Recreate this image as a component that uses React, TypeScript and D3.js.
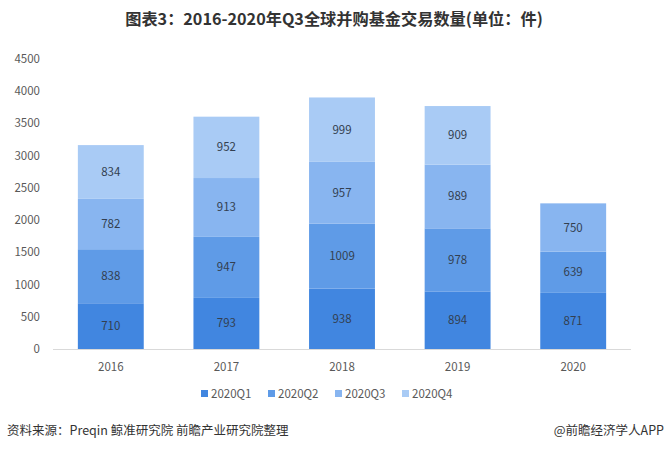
import React from "react";
import * as d3 from "d3";

const years = ["2016", "2017", "2018", "2019", "2020"];
const seriesNames = ["2020Q1", "2020Q2", "2020Q3", "2020Q4"];
const q1 = [710, 793, 938, 894, 871];
const q2 = [838, 947, 1009, 978, 639];
const q3 = [782, 913, 957, 989, 750];
const q4 = [834, 952, 999, 909, 0];
const yTicks = [0, 500, 1000, 1500, 2000, 2500, 3000, 3500, 4000, 4500];
const colors = ["#4186e0", "#5f9be7", "#88b5f0", "#a9cbf5"];

const W = 668;
const H = 450;

export default function App() {
  const series = [q1, q2, q3, q4];
  const rows = years.map((y, i) => {
    const r: any = { year: y };
    seriesNames.forEach((s, j) => (r[s] = series[j][i]));
    return r;
  });
  const stacked = d3.stack<any>().keys(seriesNames)(rows);
  const x = d3.scaleBand().domain(years).range([53, 631]).paddingInner(0.43).paddingOuter(0.215);
  const y = d3.scaleLinear().domain([0, 4500]).range([349, 59]);
  const font = "'Microsoft YaHei', 'Noto Sans CJK SC', 'Noto Sans', sans-serif";

  return (
    <svg width={W} height={H} style={{ position: "absolute", left: 0, top: 0, background: "#fff" }} fontFamily={font}>
      <rect width={W} height={H} fill="#fff" />
      <text x={334} y={25} textAnchor="middle" fontSize={16.2} fontWeight="bold" fill="#333">
        图表3：2016-2020年Q3全球并购基金交易数量(单位：件)
      </text>
      {yTicks.map((t) => (
        <text key={t} x={40} y={y(t) + 4} textAnchor="end" fontSize={11.5} fill="#595959">
          {t}
        </text>
      ))}
      {stacked.map((layer, li) =>
        layer.map((d, i) => {
          const v = d[1] - d[0];
          if (v <= 0) return null;
          const bx = x(years[i])!;
          return (
            <g key={`${li}-${i}`}>
              <rect x={bx} y={y(d[1])} width={x.bandwidth()} height={y(d[0]) - y(d[1])} fill={colors[li]} />
              <text
                x={bx + x.bandwidth() / 2}
                y={(y(d[0]) + y(d[1])) / 2 + 4}
                textAnchor="middle"
                fontSize={11.5}
                fill="#333f50"
              >
                {v}
              </text>
            </g>
          );
        })
      )}
      <line x1={53} x2={631} y1={349.5} y2={349.5} stroke="#d9d9d9" strokeWidth={1} />
      {years.map((yr) => (
        <text key={yr} x={x(yr)! + x.bandwidth() / 2} y={371} textAnchor="middle" fontSize={11.5} fill="#595959">
          {yr}
        </text>
      ))}
      {seriesNames.map((s, i) => (
        <g key={s} transform={`translate(${201 + i * 67},0)`}>
          <rect x={0} y={390} width={7} height={7} fill={colors[i]} />
          <text x={10} y={398} fontSize={11.5} fill="#595959">
            {s}
          </text>
        </g>
      ))}
      <text x={7} y={435} fontSize={12.5} fill="#333">
        资料来源：Preqin 鲸准研究院 前瞻产业研究院整理
      </text>
      <text x={664} y={435} textAnchor="end" fontSize={12.5} fill="#333">
        @前瞻经济学人APP
      </text>
    </svg>
  );
}
